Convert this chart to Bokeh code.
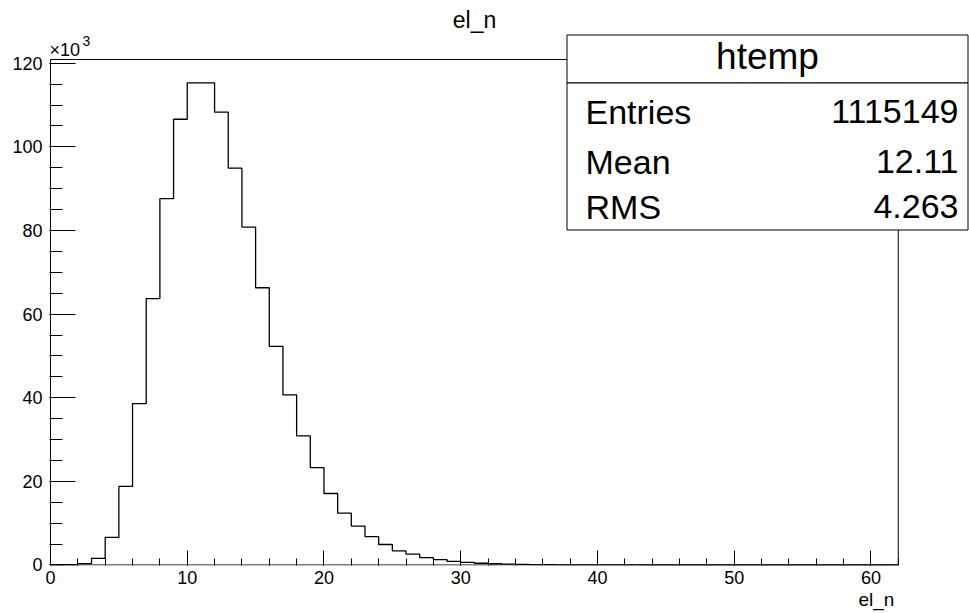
from bokeh.plotting import figure
from bokeh.models import Range1d, FixedTicker, Label, BoxAnnotation, Title
from bokeh.embed import file_html
from bokeh.resources import INLINE

# el_n histogram: one bin per integer value, counts in units of 10^3
bin_low = list(range(0, 62))
counts_k = [
    0.0, 0.05, 0.35, 1.6, 6.6, 18.8, 38.6, 63.7, 87.6, 106.6,
    115.3, 115.3, 108.3, 94.9, 80.8, 66.3, 52.3, 40.7, 30.9, 23.3,
    17.1, 12.4, 9.3, 6.8, 4.9, 3.4, 2.6, 1.75, 1.27, 0.87,
    0.62, 0.42, 0.3, 0.2, 0.15, 0.1, 0.07, 0.05, 0.03, 0.02,
    0.015, 0.01, 0.007, 0.005, 0.003, 0.002, 0.001, 0.0, 0.0, 0.0,
    0.0, 0.0, 0.0, 0.0, 0.0, 0.0, 0.0, 0.0, 0.0, 0.0,
    0.0, 0.0,
]

# histogram frame limits and tick positions
x_lo, x_hi = 0, 62
y_lo, y_hi = 0, 120.9
x_ticks = [0, 10, 20, 30, 40, 50, 60]
x_minor = list(range(0, 63, 2))
y_ticks = [0, 20, 40, 60, 80, 100, 120]
y_minor = list(range(0, 121, 5))

hist_name = "htemp"
stat_names = ["Entries", "Mean", "RMS"]
stat_values = ["1115149", "12.11", "4.263"]

FONT = "Liberation Sans"

# The plotting frame spans the whole canvas above and right of the axes so
# that the title and the statistics box can be drawn inside it; the
# histogram frame itself is drawn as lines at the axis limits.
p = figure(
    width=969, height=613,
    output_backend="svg", toolbar_location=None, title_location=None,
    x_range=Range1d(-0.073, 67.21), y_range=Range1d(-0.12, 135.0),
    min_border_left=49, min_border_right=0,
    min_border_top=0, min_border_bottom=48,
)
p.background_fill_color = "white"
p.border_fill_color = "white"
p.outline_line_color = None
p.grid.visible = False

# histogram frame
p.line([x_lo, x_hi, x_hi, x_lo, x_lo], [y_lo, y_lo, y_hi, y_hi, y_lo],
       line_color="black", line_width=1)

# histogram outline as a step line over the bin edges
xs = bin_low + [bin_low[-1] + 1]
ys = counts_k + [counts_k[-1]]
p.step(xs, ys, mode="after", line_color="black", line_width=1.3)

# axes: ticks drawn inward, axis lines come from the frame above
p.xaxis.ticker = FixedTicker(ticks=x_ticks, minor_ticks=x_minor)
p.yaxis.ticker = FixedTicker(ticks=y_ticks, minor_ticks=y_minor)
for ax in (p.xaxis[0], p.yaxis[0]):
    ax.axis_line_color = None
    ax.major_tick_line_color = "black"
    ax.minor_tick_line_color = "black"
    ax.major_tick_out = 0
    ax.minor_tick_out = 0
    ax.major_label_text_font = FONT
    ax.major_label_text_font_size = "18px"
    ax.major_label_text_color = "black"
p.xaxis.major_label_standoff = 5
p.yaxis.major_label_standoff = 7
p.xaxis.major_tick_in = 15
p.xaxis.minor_tick_in = 7
p.yaxis.major_tick_in = 26
p.yaxis.minor_tick_in = 13

# x axis title, right-aligned under the axis
p.add_layout(Title(text="el_n", align="left", offset=809, standoff=0,
                   text_font=FONT, text_font_size="19px",
                   text_font_style="normal", text_color="black"), "below")


def lab(text, x, y, size, align="left"):
    p.add_layout(Label(
        x=x, y=y, x_units="screen", y_units="screen", text=text,
        text_font=FONT, text_font_size=size, text_color="black",
        text_align=align, text_baseline="alphabetic",
    ))


# statistics box (header cell and body cell)
box_kw = dict(left_units="screen", right_units="screen",
              top_units="screen", bottom_units="screen",
              fill_color="white", fill_alpha=1.0,
              line_color="black", line_alpha=1.0, line_width=1)
p.add_layout(BoxAnnotation(left=517.5, right=918.5, top=530.5, bottom=482.5, **box_kw))
p.add_layout(BoxAnnotation(left=517.5, right=918.5, top=482.5, bottom=335.5, **box_kw))

# title and exponent marker
lab("el_n", 425, 546, "23px", align="center")
lab("\u00d710", 0, 516, "18px")
lab("3", 33, 525, "14px")

lab(hist_name, 718, 509, "37px", align="center")
for name, val, yb in zip(stat_names, stat_values, [454, 404, 359]):
    lab(name, 536, yb, "34px")
    lab(val, 909, yb, "34px", align="right")

open("out.html", "w").write(file_html(p, INLINE))
